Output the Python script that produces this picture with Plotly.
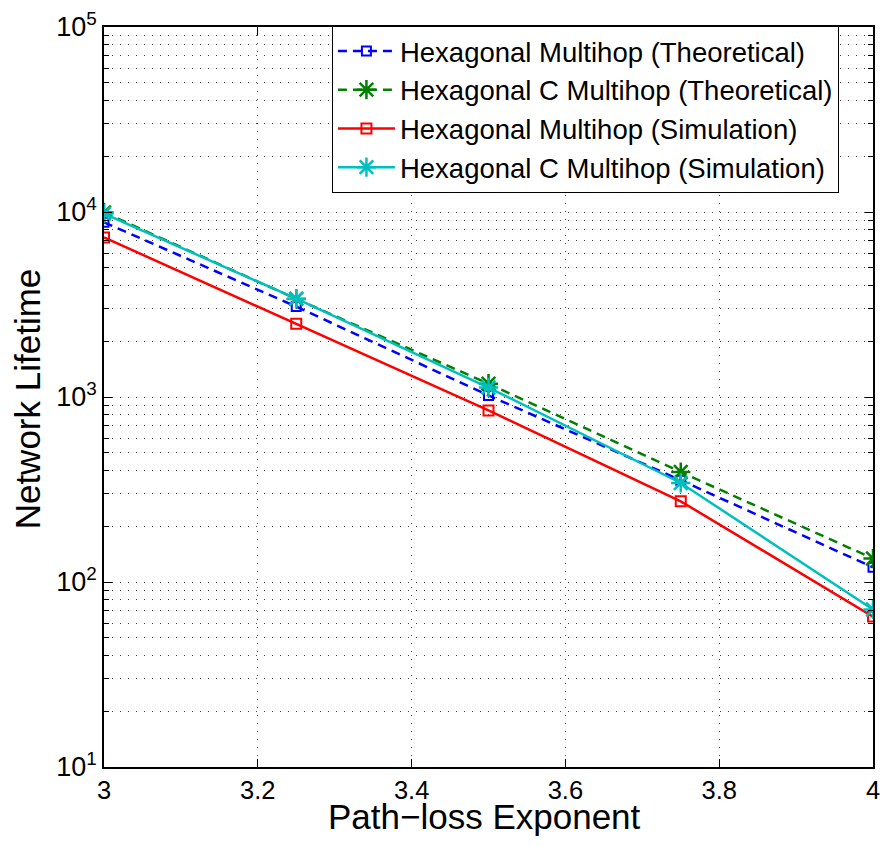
import plotly.graph_objects as go

x_vals = [3.0, 3.25, 3.5, 3.75, 4.0]
hex_theory = [8800, 3080, 1020, 355, 120]
hexc_theory = [9950, 3390, 1180, 393, 134]
hex_sim = [7290, 2485, 846, 273, 65]
hexc_sim = [9800, 3400, 1125, 343, 71]

names = ["Hexagonal Multihop (Theoretical)", "Hexagonal C Multihop (Theoretical)",
         "Hexagonal Multihop (Simulation)", "Hexagonal C Multihop (Simulation)"]
x_title = "Path\u2212loss Exponent"
y_title = "Network Lifetime"

FONT = "Liberation Sans, Arial, sans-serif"

fig = go.Figure()
fig.add_trace(go.Scatter(x=x_vals, y=hex_theory, name=names[0], mode="lines+markers",
                         line=dict(color="#0000ff", width=2.5, dash="9px,6px"),
                         marker=dict(symbol="square-open", size=9, color="#0000ff", line=dict(width=2))))
fig.add_trace(go.Scatter(x=x_vals, y=hexc_theory, name=names[1], mode="lines+markers",
                         line=dict(color="#008000", width=2.5, dash="9px,6px"),
                         marker=dict(symbol="asterisk-open", size=16, color="#008000", line=dict(width=2.5, color="#008000"))))
fig.add_trace(go.Scatter(x=x_vals, y=hex_sim, name=names[2], mode="lines+markers",
                         line=dict(color="#ff0000", width=2.5),
                         marker=dict(symbol="square-open", size=10, color="#ff0000", line=dict(width=2))))
fig.add_trace(go.Scatter(x=x_vals, y=hexc_sim, name=names[3], mode="lines+markers",
                         line=dict(color="#00bfbf", width=2.5),
                         marker=dict(symbol="asterisk-open", size=16, color="#00bfbf", line=dict(width=2.5, color="#00bfbf"))))

y_ticks = [10, 100, 1000, 10000, 100000]
y_text = ["10<sup>1</sup>", "10<sup>2</sup>", "10<sup>3</sup>", "10<sup>4</sup>", "10<sup>5</sup>"]
y_minor = [m * 10 ** k for k in range(1, 5) for m in range(2, 10)]
x_ticks = [3, 3.2, 3.4, 3.6, 3.8, 4]
x_text = ["3", "3.2", "3.4", "3.6", "3.8", "4"]

GRID = dict(showgrid=True, gridcolor="#444444", griddash="1px,7px", gridwidth=1.3)

fig.update_layout(
    width=888, height=846,
    margin=dict(l=104, r=8, t=26, b=79),
    paper_bgcolor="white", plot_bgcolor="white",
    font=dict(family=FONT, color="black", size=27),
    showlegend=True,
    legend=dict(x=0.2964, y=1.002, xanchor="left", yanchor="top",
                bgcolor="white", bordercolor="black", borderwidth=1,
                font=dict(size=27.5, family=FONT), tracegroupgap=0, itemwidth=57),
    xaxis=dict(range=[3, 4], tickvals=x_ticks, ticktext=x_text,
               showline=True, linecolor="black", linewidth=1.5, mirror="ticks",
               ticks="inside", ticklen=8, tickcolor="black",
               zeroline=False, tickfont=dict(size=25.5),
               **GRID),
    yaxis=dict(type="log", range=[1, 5], tickvals=y_ticks, ticktext=y_text,
               showline=True, linecolor="black", linewidth=1.5, mirror="ticks",
               ticks="inside", ticklen=8, tickcolor="black",
               zeroline=False, tickfont=dict(size=27),
               minor=dict(tickvals=y_minor, ticks="inside", ticklen=5, tickcolor="black",
                          showgrid=True, gridcolor="#444444", griddash="1px,7px", gridwidth=1.3),
               **GRID),
    annotations=[
        dict(text=x_title, xref="paper", yref="paper", x=0.495, y=-0.0675,
             xanchor="center", yanchor="middle", showarrow=False, font=dict(size=35, family=FONT)),
        dict(text=y_title, xref="paper", yref="paper", x=-0.099, y=0.498, textangle=-90,
             xanchor="center", yanchor="middle", showarrow=False, font=dict(size=35, family=FONT)),
    ],
)

fig.write_html("out.html")
